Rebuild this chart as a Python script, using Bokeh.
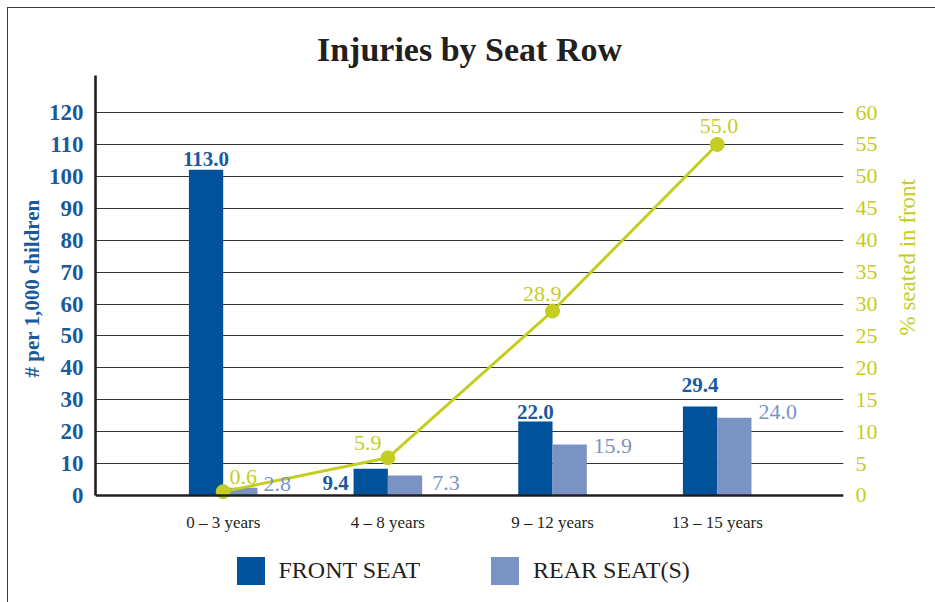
import numpy as np
from bokeh.plotting import figure
from bokeh.models import (Range1d, LinearAxis, FixedTicker, ColumnDataSource,
                          Legend, LegendItem, Span, Title)
from bokeh.core.properties import value, field
from bokeh.embed import file_html
from bokeh.resources import INLINE

# ---- data ----
categories = ["0 – 3 years", "4 – 8 years", "9 – 12 years", "13 – 15 years"]
front_bar = [102.1, 8.4, 23.2, 27.9]      # bar heights as drawn (# per 1,000)
rear_bar = [2.4, 6.3, 16.0, 24.4]
front_labels = ["113.0", "9.4", "22.0", "29.4"]
rear_labels = ["2.8", "7.3", "15.9", "24.0"]
pct_front = [0.6, 5.9, 28.9, 55.0]        # % seated in front
left_ticks = list(range(0, 130, 10))
right_ticks = list(range(0, 65, 5))

# ---- styles ----
FONT = "Liberation Serif"
BLUE = "#02529B"
LIGHT = "#7B93C4"
GREEN = "#C4CE22"
AXBLUE = "#1A5A9C"
BLACK = "#231F20"
bar_w = 0.2083

front_align = ["center", "right", "center", "center"]
front_dx = [0, -22, 0, 0]
front_dy = [-10.5, 14.7, -9, -21]
rear_align = ["left", "left", "left", "left"]
rear_dx = [23.2, 27.2, 23.8, 24.2]
rear_dy = [-3.5, 7.7, 1.7, -5.3]
pct_align = ["left", "right", "right", "center"]
pct_dx = [6.3, -6.4, 9, 1.8]
pct_dy = [-14.5, -14.6, -16.8, -18.2]

idx = np.arange(len(categories))

p = figure(width=935, height=602, output_backend="svg", toolbar_location=None,
           x_range=Range1d(-0.7755, 3.767), y_range=Range1d(-31.33, 131.6),
           min_border_left=95, min_border_right=92, min_border_top=75,
           min_border_bottom=7, title="Injuries by Seat Row")
p.extra_y_ranges = {"pct": Range1d(-15.67, 65.8)}
p.outline_line_alpha = 0
p.background_fill_color = "white"
p.border_fill_alpha = 0
p.styles = {"background": "linear-gradient(#3a3a3a,#3a3a3a) 7px 7px / 1px calc(100% - 7px) no-repeat, "
                          "linear-gradient(#3a3a3a,#3a3a3a) 7px 7px / calc(100% - 7px) 1px no-repeat, #ffffff"}

p.title.text_font = FONT
p.title.text_font_size = "34px"
p.title.text_font_style = "bold"
p.title.text_color = BLACK
p.title.align = "center"
p.title.standoff = 15

# grid
p.xgrid.visible = False
p.xaxis.visible = False
p.ygrid.ticker = FixedTicker(ticks=left_ticks)
p.ygrid.grid_line_color = "#333333"
p.ygrid.grid_line_width = 1.2

# baseline (category axis line)
p.add_layout(Span(location=0, dimension="width", line_color=BLACK, line_width=2.6))

# left axis
ya = p.yaxis[0]
ya.ticker = FixedTicker(ticks=left_ticks)
ya.bounds = (0, 131.6)
ya.major_tick_out = 0
ya.major_tick_in = 0
ya.minor_tick_out = 0
ya.minor_tick_in = 0
ya.axis_line_width = 2.6
ya.axis_line_color = BLACK
ya.major_label_text_font = FONT
ya.major_label_text_font_size = "23px"
ya.major_label_text_font_style = "bold"
ya.major_label_text_color = AXBLUE
ya.major_label_standoff = 12

# left axis title (as a side title so it can sit at the reference height)
p.add_layout(Title(text="# per 1,000 children", align="left", offset=218,
                   standoff=4, text_font=FONT, text_font_size="21px",
                   text_font_style="bold", text_color=AXBLUE), "left")

# right axis
ra = LinearAxis(y_range_name="pct", ticker=FixedTicker(ticks=right_ticks))
ra.bounds = (0, 60.8)
ra.axis_line_alpha = 0
ra.major_tick_out = 0
ra.major_tick_in = 0
ra.minor_tick_out = 0
ra.minor_tick_in = 0
ra.major_label_text_font = FONT
ra.major_label_text_font_size = "22px"
ra.major_label_text_color = GREEN
ra.major_label_standoff = 12
ra.axis_label = "% seated in front"
ra.axis_label_text_font = FONT
ra.axis_label_text_font_size = "23px"
ra.axis_label_text_font_style = "normal"
ra.axis_label_text_color = GREEN
ra.axis_label_standoff = 27
if "axis_label_orientation" in ra.properties():
    ra.axis_label_orientation = np.pi / 2
p.add_layout(ra, "right")

# bars
rf = p.vbar(x=idx - bar_w / 2, top=front_bar, width=bar_w, bottom=0,
            fill_color=BLUE, line_color=None)
rr = p.vbar(x=idx + bar_w / 2, top=rear_bar, width=bar_w, bottom=0,
            fill_color=LIGHT, line_color=None)

# line
p.line(x=idx, y=pct_front, y_range_name="pct", line_color=GREEN, line_width=3)
p.scatter(x=idx, y=pct_front, y_range_name="pct", size=14,
          fill_color=GREEN, line_color=GREEN)

# category labels under the baseline
csrc = ColumnDataSource(dict(x=idx, y=np.zeros(len(idx)), t=categories))
p.text(x="x", y="y", text="t", source=csrc, y_offset=26.7,
       text_align="center", text_baseline="middle",
       text_font=value(FONT), text_font_size="17px", text_color=BLACK)

# value labels
fsrc = ColumnDataSource(dict(x=idx - bar_w / 2, y=front_bar, t=front_labels,
                             a=front_align, dx=front_dx, dy=front_dy))
p.text(x="x", y="y", text="t", source=fsrc, x_offset="dx", y_offset="dy",
       text_align=field("a"), text_baseline="middle",
       text_font=value(FONT), text_font_size="21px", text_font_style="bold",
       text_color=AXBLUE)
rsrc = ColumnDataSource(dict(x=idx + bar_w / 2, y=rear_bar, t=rear_labels,
                             a=rear_align, dx=rear_dx, dy=rear_dy))
p.text(x="x", y="y", text="t", source=rsrc, x_offset="dx", y_offset="dy",
       text_align=field("a"), text_baseline="middle",
       text_font=value(FONT), text_font_size="22px", text_color=LIGHT)
psrc = ColumnDataSource(dict(x=idx, y=pct_front, t=[f"{v:.1f}" for v in pct_front],
                             a=pct_align, dx=pct_dx, dy=pct_dy))
p.text(x="x", y="y", text="t", source=psrc, x_offset="dx", y_offset="dy",
       y_range_name="pct", text_align=field("a"), text_baseline="middle",
       text_font=value(FONT), text_font_size="22px", text_color=GREEN)

# legend
legend = Legend(items=[LegendItem(label="FRONT SEAT", renderers=[rf]),
                       LegendItem(label="REAR SEAT(S)", renderers=[rr])],
                orientation="horizontal", location=(137.5, 7),
                glyph_width=35, glyph_height=35, label_standoff=11, spacing=67,
                padding=0, margin=0, border_line_alpha=0, background_fill_alpha=0,
                label_text_font=FONT, label_text_font_size="24px",
                label_text_color=BLACK)
p.add_layout(legend)

open("out.html", "w").write(file_html(p, INLINE))
